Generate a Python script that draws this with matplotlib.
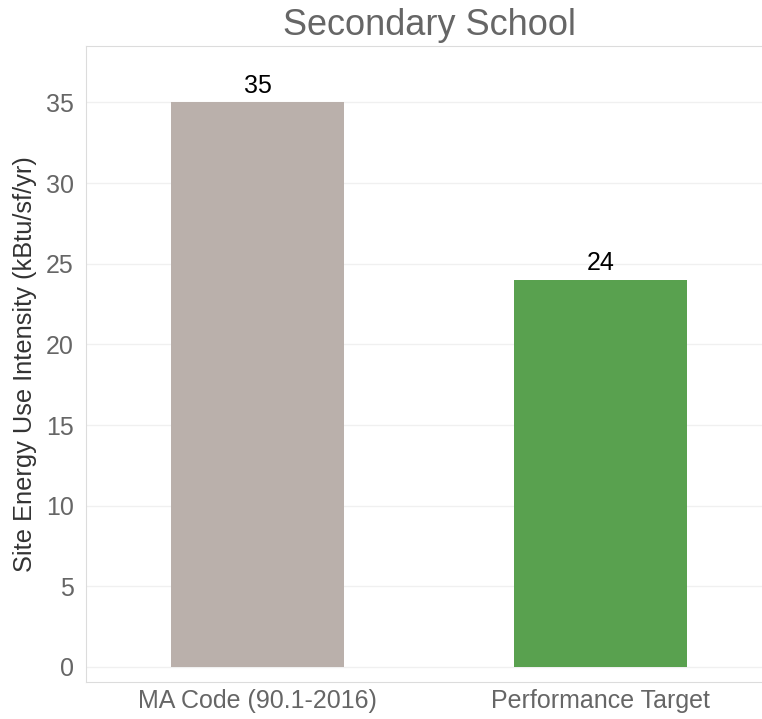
import matplotlib.pyplot as plt

plt.rcParams['font.family'] = ['Liberation Sans', 'DejaVu Sans']

categories = ["MA Code (90.1-2016)", "Performance Target"]
values = [35, 24]
colors = ["#bab0ab", "#59a14f"]

fig = plt.figure(figsize=(7.62, 7.19), dpi=100)
ax = fig.add_axes([0.113, 0.0515, 0.887, 0.8845])

x = range(len(categories))
bars = ax.bar(x, values, width=0.502, color=colors, zorder=3)
for b, v in zip(bars, values):
    ax.text(b.get_x() + b.get_width() / 2, v + 0.3, str(v), ha="center", va="bottom",
            fontsize=18, color="black")

ax.set_xlim(-0.5, 1.471)
ax.set_ylim(-0.93, 38.5)
ax.set_yticks(range(0, 36, 5))
ax.set_xticks(list(x))
ax.set_xticklabels(categories)
ax.tick_params(axis="both", length=0, labelsize=18, labelcolor="#666666")
ax.tick_params(axis="y", pad=9)
ax.tick_params(axis="x", pad=5)
ax.grid(axis="y", color="#f0f0f0", linewidth=1, zorder=0)

for side in ["left", "bottom", "top"]:
    ax.spines[side].set_color("#dcdcdc")
ax.spines["right"].set_visible(False)

ax.set_ylabel("Site Energy Use Intensity (kBtu/sf/yr)", fontsize=18.3, color="#333333", labelpad=6)
fig.text(0.563, 0.965, "Secondary School", ha="center", va="center", fontsize=26, color="#666666")

fig.savefig("out.png", dpi=100)
